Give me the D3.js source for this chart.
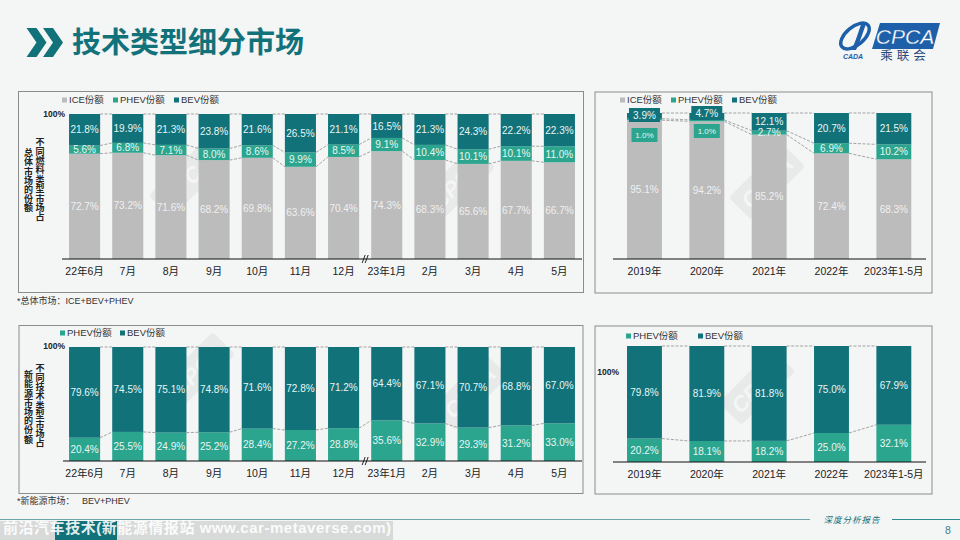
<!DOCTYPE html>
<html>
<head>
<meta charset="utf-8">
<script src="https://cdn.jsdelivr.net/npm/d3@7/dist/d3.min.js"></script>
<style>
html,body{margin:0;padding:0;background:#f4f5f5;}
svg{display:block;font-family:"Liberation Sans","Noto Sans CJK SC",sans-serif;}
</style>
</head>
<body>
<svg id="chart" width="960" height="540"></svg>
<script>
var months = ['22年6月','7月','8月','9月','10月','11月','12月','23年1月','2月','3月','4月','5月'];
var years = ['2019年','2020年','2021年','2022年','2023年1-5月'];

var iceMonthly = [72.7,73.2,71.6,68.2,69.8,63.6,70.4,74.3,68.3,65.6,67.7,66.7];
var phevMonthly = [5.6,6.8,7.1,8.0,8.6,9.9,8.5,9.1,10.4,10.1,10.1,11.0];
var bevMonthly = [21.8,19.9,21.3,23.8,21.6,26.5,21.1,16.5,21.3,24.3,22.2,22.3];

var iceYearly = [95.1,94.2,85.2,72.4,68.3];
var phevYearly = [1.0,1.0,2.7,6.9,10.2];
var bevYearly = [3.9,4.7,12.1,20.7,21.5];

var nevPhevMonthly = [20.4,25.5,24.9,25.2,28.4,27.2,28.8,35.6,32.9,29.3,31.2,33.0];
var nevBevMonthly = [79.6,74.5,75.1,74.8,71.6,72.8,71.2,64.4,67.1,70.7,68.8,67.0];

var nevPhevYearly = [20.2,18.1,18.2,25.0,32.1];
var nevBevYearly = [79.8,81.9,81.8,75.0,67.9];

var COLORS = {ICE:'#bcbcbc', PHEV:'#2ba58e', BEV:'#12727a'};
var svg = d3.select('#chart');

function drawWatermark(parent, cx, cy){
    var g = parent.append('g').attr('transform','translate(' + cx + ',' + cy + ') rotate(-45)');
    g.append('rect').attr('x',-38).attr('y',-16).attr('width',76).attr('height',32).attr('rx',4).attr('fill','#e8e9e9');
    g.append('text').attr('text-anchor','middle').attr('y',8).attr('font-size',22).attr('font-weight','bold')
        .attr('font-style','italic').attr('fill','#f4f5f5').text('CPCA');
}

function drawPanel(opt){
    var layer = svg.append('g');
    layer.append('rect')
        .attr('x',opt.box[0]).attr('y',opt.box[1]).attr('width',opt.box[2]).attr('height',opt.box[3])
        .attr('fill','none').attr('stroke','#8c8c8c').attr('stroke-width',1);

    opt.marks.forEach(function(m){ drawWatermark(layer,m[0],m[1]); });

    var keys = opt.series.map(function(s){ return s.name; });
    var rows = opt.categories.map(function(c,i){
        var row = {cat:c};
        opt.series.forEach(function(s){ row[s.name] = s.values[i]; });
        return row;
    });
    var stacked = d3.stack().keys(keys).offset(d3.stackOffsetExpand)(rows);

    var x = d3.scaleBand().domain(opt.categories).range(opt.xRange).paddingInner(opt.padding).paddingOuter(opt.padding/2);
    var y = d3.scaleLinear().domain([0,1]).range([opt.base,opt.top]);

    // dashed connectors
    stacked.forEach(function(layerData){
        for(var i = 0; i < layerData.length-1; i++){
            layer.append('line')
                .attr('x1',x(opt.categories[i])+x.bandwidth()).attr('x2',x(opt.categories[i+1]))
                .attr('y1',y(layerData[i][1])).attr('y2',y(layerData[i+1][1]))
                .attr('stroke','#8f8f8f').attr('stroke-width',0.8).attr('stroke-dasharray','3,1.5');
        }
    });

    stacked.forEach(function(layerData){
        layer.selectAll('rect.b' + layerData.key).data(layerData).enter().append('rect')
            .attr('class','b' + layerData.key)
            .attr('x',function(d){ return x(d.data.cat); })
            .attr('width',x.bandwidth())
            .attr('y',function(d){ return y(d[1]); })
            .attr('height',function(d){ return y(d[0])-y(d[1]); })
            .attr('fill',COLORS[layerData.key]);
    });

    // value labels
    stacked.forEach(function(layerData){
        layerData.forEach(function(d,i){
            var val = d.data[layerData.key];
            var cx = x(d.data.cat) + x.bandwidth()/2;
            var cy = (y(d[0])+y(d[1]))/2;
            var boxed = opt.boxed && opt.boxed[layerData.key + i];
            if(boxed){
                cy = boxed;
                var bw = layerData.key == 'BEV' ? 31 : 26;
                layer.append('rect').attr('x',cx-bw/2).attr('y',cy-7)
                    .attr('width',bw).attr('height',14).attr('fill',COLORS[layerData.key]);
            }
            var small = boxed && layerData.key == 'PHEV';
            layer.append('text').attr('x',cx).attr('y',cy).attr('dy','0.36em').attr('text-anchor','middle')
                .attr('font-size',small ? 8 : 10)
                .attr('fill',layerData.key == 'ICE' ? '#f0f0f0' : '#e8f6f3')
                .text(val.toFixed(1) + '%');
        });
    });

    // axis
    var axis = d3.axisBottom(x).tickSize(0).tickPadding(opt.tickPad);
    var axisG = layer.append('g').attr('transform','translate(0,' + opt.base + ')').call(axis);
    axisG.select('.domain').attr('d','M' + opt.axisX[0] + ',0H' + opt.axisX[1]).attr('stroke','#111').attr('stroke-width',1.1);
    axisG.selectAll('text').attr('font-size',10.5).attr('fill','#222').attr('font-family','"Liberation Sans","Noto Sans CJK SC",sans-serif');

    // legend
    opt.legend.forEach(function(l){
        layer.append('rect').attr('x',l.x).attr('y',opt.legendY-2.5).attr('width',5).attr('height',5).attr('fill',COLORS[l.key]);
        layer.append('text').attr('x',l.x+7).attr('y',opt.legendY).attr('dy','0.36em').attr('font-size',9.5).attr('fill','#333').text(l.key + '份额');
    });

    // 100% label
    if(opt.pct){
        layer.append('text').attr('x',opt.pct[0]).attr('y',opt.pct[1]).attr('dy','0.36em').attr('text-anchor','end')
            .attr('font-size',8.5).attr('font-weight','bold').attr('fill','#222').text('100%');
    }

    // axis break mark
    if(opt.brk){
        var bx = x(opt.categories[7]) - x.step()*opt.padding/2;
        [-1.5,1.5].forEach(function(dx){
            layer.append('line').attr('x1',bx+dx-1.5).attr('x2',bx+dx+1.5).attr('y1',opt.base+4).attr('y2',opt.base-4)
                .attr('stroke','#111').attr('stroke-width',0.9);
        });
    }
    // vertical captions
    if(opt.vtitle){
        opt.vtitle.forEach(function(t){
            t.text.split('').forEach(function(c,i){
                layer.append('text').attr('x',t.x).attr('y',t.y + i*t.gap).attr('text-anchor','middle')
                    .attr('dy','0.36em').attr('font-size',9).attr('font-weight','bold').attr('fill','#222').text(c);
            });
        });
    }
}

drawPanel({
    box:[18.5,91.5,565,201], categories:months,
    series:[{name:'ICE',values:iceMonthly},{name:'PHEV',values:phevMonthly},{name:'BEV',values:bevMonthly}],
    xRange:[63,581], padding:0.28, top:114, base:259, axisX:[62,582], tickPad:9,
    legend:[{key:'ICE',x:62},{key:'PHEV',x:113},{key:'BEV',x:174}], legendY:100,
    pct:[65,114], brk:true, marks:[[187,180],[457,183]],
    vtitle:[{text:'不同燃料类型市场占',x:40,y:142,gap:9.4},{text:'总体市场的份额',x:28.5,y:153,gap:9.2}]
});
drawPanel({
    box:[595,92,337,201], categories:years,
    series:[{name:'ICE',values:iceYearly},{name:'PHEV',values:phevYearly},{name:'BEV',values:bevYearly}],
    xRange:[613.3,925], padding:0.44, top:113, base:259, axisX:[613,926], tickPad:9,
    legend:[{key:'ICE',x:620},{key:'PHEV',x:671},{key:'BEV',x:732}], legendY:100,
    marks:[[767,182]],
    boxed:{BEV0:115,BEV1:113,PHEV0:135,PHEV1:131}
});
drawPanel({
    box:[19,325.5,564,168], categories:months,
    series:[{name:'PHEV',values:nevPhevMonthly},{name:'BEV',values:nevBevMonthly}],
    xRange:[63,581], padding:0.28, top:347, base:461, axisX:[63,582], tickPad:9,
    legend:[{key:'PHEV',x:60},{key:'BEV',x:120}], legendY:333,
    pct:[65,346], brk:true, marks:[[197,370],[470,392]],
    vtitle:[{text:'不同技术类型市场占',x:40,y:368,gap:9.4},{text:'新能源市场的份额',x:28.5,y:375,gap:9.2}]
});
drawPanel({
    box:[595,326,337,168], categories:years,
    series:[{name:'PHEV',values:nevPhevYearly},{name:'BEV',values:nevBevYearly}],
    xRange:[613.3,925], padding:0.44, top:346, base:462, axisX:[613,926], tickPad:9,
    legend:[{key:'PHEV',x:626},{key:'BEV',x:698}], legendY:336,
    pct:[619,372], marks:[[757,387]]
});

// footnotes
svg.append('text').attr('x',17).attr('y',301).attr('dy','0.36em').attr('font-size',9).attr('fill','#333').text('*总体市场：ICE+BEV+PHEV');
svg.append('text').attr('x',17).attr('y',501).attr('dy','0.36em').attr('font-size',9).attr('fill','#333').attr('xml:space','preserve').text('*新能源市场：   BEV+PHEV');

// header
var chevron = 'M0,0H10L20,14.5L10,29H0L10,14.5Z';
svg.append('path').attr('d',chevron).attr('transform','translate(26.5,28)').attr('fill','#12727a');
svg.append('path').attr('d',chevron).attr('transform','translate(43,28)').attr('fill','#12727a');
svg.append('text').attr('x',72).attr('y',43).attr('dy','0.36em').attr('font-size',29).attr('font-weight','bold')
    .attr('fill','#12727a').text('技术类型细分市场');

// logo
svg.append('path').attr('d','M880,23H940L933,49H872Z').attr('fill','#1d5fa8');
svg.append('text').attr('x',905).attr('y',36).attr('dy','0.36em').attr('text-anchor','middle').attr('font-size',21)
    .attr('font-style','italic').attr('fill','#fff').attr('stroke','#1d5fa8').attr('stroke-width',0.3).text('CPCA');
svg.append('text').attr('x',905).attr('y',55).attr('dy','0.36em').attr('text-anchor','middle').attr('font-size',12.5)
    .attr('fill','#2a4a7a').attr('letter-spacing',4).text('乘联会');
svg.append('ellipse').attr('cx',855).attr('cy',36).attr('rx',17).attr('ry',9).attr('transform','rotate(-40 855 36)')
    .attr('fill','none').attr('stroke','#1d5fa8').attr('stroke-width',3.5);
svg.append('path').attr('d','M862,22C858,32 856,42 851,50L856,50C860,42 863,32 866,24Z').attr('fill','#1d5fa8');
svg.append('text').attr('x',853).attr('y',56).attr('dy','0.36em').attr('text-anchor','middle').attr('font-size',7)
    .attr('font-weight','bold').attr('font-style','italic').attr('fill','#1d5fa8').text('CADA');

// footer
svg.append('line').attr('x1',0).attr('x2',810).attr('y1',519.5).attr('y2',519.5).attr('stroke','#6ea6a8').attr('stroke-width',1.2);
svg.append('line').attr('x1',892).attr('x2',960).attr('y1',519.5).attr('y2',519.5).attr('stroke','#2f8a8e').attr('stroke-width',1);
svg.append('text').attr('x',852).attr('y',520).attr('dy','0.36em').attr('text-anchor','middle').attr('font-size',8.5)
    .attr('font-style','italic').attr('letter-spacing',1).attr('fill','#12727a').text('深度分析报告');
svg.append('text').attr('x',948).attr('y',530).attr('dy','0.36em').attr('text-anchor','middle').attr('font-size',10.5)
    .attr('fill','#3f7f84').text('8');

// site stamp over the footer
svg.append('rect').attr('x',0).attr('y',521).attr('width',393).attr('height',19).attr('fill','#d8dada');
svg.append('rect').attr('x',55).attr('y',521).attr('width',62).attr('height',19).attr('fill','#12727a');
svg.append('text').attr('x',3).attr('y',528).attr('dy','0.36em').attr('font-size',15).attr('font-weight','bold')
    .attr('fill','#ffffff').attr('fill-opacity',0.9).attr('textLength',388).attr('lengthAdjust','spacing')
    .text('前沿汽车技术(新能源情报站 www.car-metaverse.com)');
</script>
</body>
</html>
